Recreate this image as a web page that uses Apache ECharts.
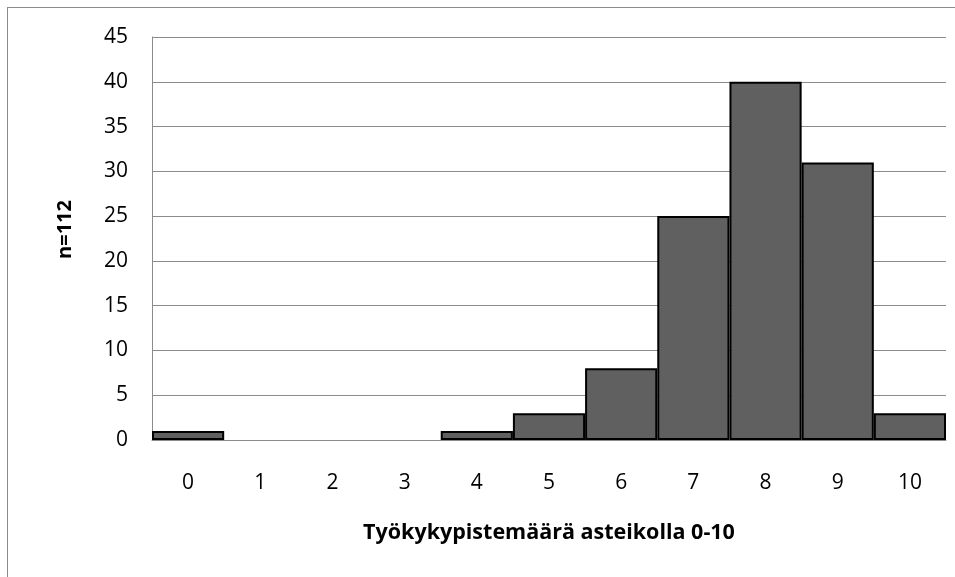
<!DOCTYPE html>
<html><head><meta charset="utf-8">
<script src="https://cdn.jsdelivr.net/npm/echarts@6/dist/echarts.min.js"></script>
<style>html,body{margin:0;padding:0;background:#fff}#c{width:955px;height:577px}
#frame{position:absolute;left:7px;top:7px;width:960px;height:580px;border:1px solid #8c8c8c;box-sizing:border-box;pointer-events:none}</style>
</head><body><div id="c"></div><div id="frame"></div>
<script>
const categories = ['0','1','2','3','4','5','6','7','8','9','10'];
const values = [1,0,0,0,1,3,8,25,40,31,3];
const yTicks = [0,5,10,15,20,25,30,35,40,45];
const xTitle = 'Työkykypistemäärä asteikolla 0-10';
const yTitle = 'n=112';
const font = 'Open Sans, Noto Sans, sans-serif';
const chart = echarts.init(document.getElementById('c'));
chart.setOption({
  animation:false,
  grid:{left:152,right:9,top:37,bottom:137},
  xAxis:{type:'category',data:categories,
    axisLine:{lineStyle:{color:'#8c8c8c',width:1}},axisTick:{show:false},
    axisLabel:{color:'#000',fontSize:21,fontFamily:font,margin:33},
    name:xTitle,nameLocation:'middle',nameGap:82,
    nameTextStyle:{color:'#000',fontSize:21.5,fontWeight:'bold',fontFamily:font}},
  yAxis:{type:'value',min:yTicks[0],max:yTicks[yTicks.length-1],interval:5,
    axisLine:{show:true,lineStyle:{color:'#8c8c8c'}},axisTick:{show:false},
    splitLine:{lineStyle:{color:'#8c8c8c',width:1}},
    axisLabel:{color:'#000',fontSize:21,fontFamily:font,margin:24},
    name:yTitle,nameLocation:'middle',nameGap:77,nameRotate:90,
    nameTextStyle:{color:'#000',fontSize:20,fontWeight:'bold',fontFamily:font,padding:[0,0,0,18]}},
  series:[{type:'bar',
    data:values.map(v => v === 0 ? {value:v,itemStyle:{borderWidth:0}} : v),
    barWidth:'100%',barCategoryGap:'0%',z:1,
    itemStyle:{color:'#606060',borderColor:'#000',borderWidth:2}}]
});
</script></body></html>
